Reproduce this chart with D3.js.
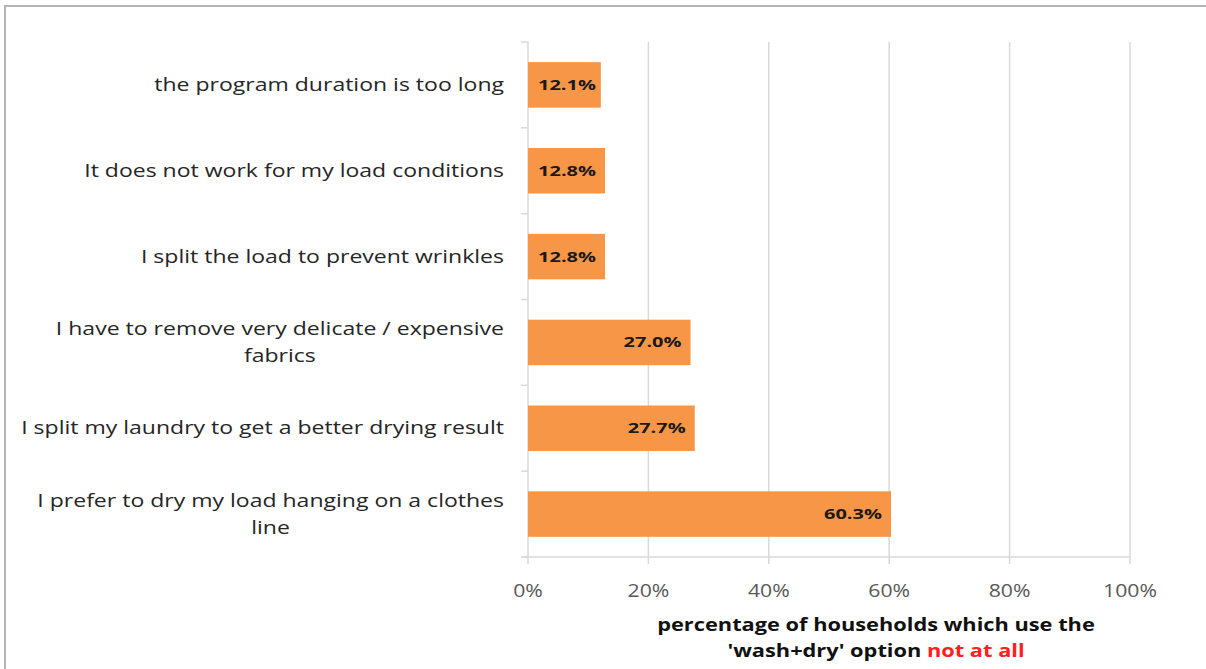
<!DOCTYPE html>
<html>
<head>
<meta charset="utf-8">
<script src="https://cdn.jsdelivr.net/npm/d3@7"></script>
<style>
  body { margin: 0; background: #fff; }
  svg { display: block; }
</style>
</head>
<body>
<svg width="1206" height="669"></svg>
<script>
// reasons, top to bottom
var categories = [
  ["the program duration is too long"],
  ["It does not work for my load conditions"],
  ["I split the load to prevent wrinkles"],
  ["I have to remove very delicate / expensive", "fabrics"],
  ["I split my laundry to get a better drying result"],
  ["I prefer to dry my load hanging on a clothes", "line"]
];
var values = [12.1, 12.8, 12.8, 27.0, 27.7, 60.3];
var xTicks = [0, 20, 40, 60, 80, 100];

var margin = {top: 42, left: 528, right: 76, bottom: 112};
var width = 1206 - margin.left - margin.right;
var height = 669 - margin.top - margin.bottom;
var font = "'Open Sans', Lato, sans-serif";

var svg = d3.select("svg");

// horizontal stretch so the text widths follow the (wide) source rendering
function stretch(sel, k) {
  sel.each(function() {
    var t = d3.select(this);
    var x0 = +t.attr("x"), y0 = +t.attr("y");
    t.attr("x", 0).attr("y", 0)
      .attr("transform", "translate(" + x0 + "," + y0 + ") scale(" + k + ",1)");
  });
}
function widest(sel) {
  var m = 0;
  sel.each(function() { m = Math.max(m, this.getComputedTextLength()); });
  return m;
}

// frame (only top and left edges show)
svg.append("path")
  .attr("d", "M5,669V6H1206")
  .attr("fill", "none")
  .attr("stroke", "#b5b5b5")
  .attr("stroke-width", 2);

var x = d3.scaleLinear().domain([0, 100]).range([0, width]);
var y = d3.scaleBand().domain(d3.range(categories.length)).range([0, height]).paddingInner(0.47).paddingOuter(0.235);

var main = svg.append("g")
  .attr("transform", "translate(" + margin.left + "," + margin.top + ")");

// gridlines
main.selectAll(".grid")
  .data(xTicks.slice(1))
  .enter().append("line")
  .attr("x1", function(d) { return x(d); })
  .attr("x2", function(d) { return x(d); })
  .attr("y1", 0)
  .attr("y2", height + 7)
  .attr("stroke", "#d9d9d9")
  .attr("stroke-width", 1.5);

// y axis line + ticks at band boundaries
main.append("line")
  .attr("x1", 0).attr("x2", 0).attr("y1", 0).attr("y2", height + 7)
  .attr("stroke", "#d9d9d9").attr("stroke-width", 1.5);
main.selectAll(".ytick")
  .data(d3.range(categories.length + 1))
  .enter().append("line")
  .attr("x1", -7).attr("x2", 0)
  .attr("y1", function(i) { return i * height / categories.length; })
  .attr("y2", function(i) { return i * height / categories.length; })
  .attr("stroke", "#d9d9d9").attr("stroke-width", 1.5);

// x axis line
main.append("line")
  .attr("x1", -7).attr("x2", width).attr("y1", height).attr("y2", height)
  .attr("stroke", "#d9d9d9").attr("stroke-width", 1.5);

// x tick labels
var xl = main.selectAll(".xlab")
  .data(xTicks)
  .enter().append("text")
  .attr("x", function(d) { return x(d); })
  .attr("y", height + 40)
  .attr("text-anchor", "middle")
  .attr("font-family", font)
  .attr("font-size", 18)
  .attr("fill", "#595959")
  .text(function(d) { return d + "%"; });
stretch(xl, 54 / widest(xl));

// bars
main.selectAll(".bar")
  .data(values)
  .enter().append("rect")
  .attr("x", 0)
  .attr("y", function(d, i) { return y(i); })
  .attr("width", function(d) { return x(d); })
  .attr("height", y.bandwidth())
  .attr("fill", "#f79646");

// value labels, inside end
var vl = main.selectAll(".val")
  .data(values)
  .enter().append("text")
  .attr("y", function(d, i) { return y(i) + y.bandwidth() / 2 + 5; })
  .attr("text-anchor", "end")
  .attr("font-family", font)
  .attr("font-weight", "bold")
  .attr("font-size", 14)
  .attr("fill", "#1a1a1a")
  .text(function(d) { return d.toFixed(1) + "%"; });
var kv = 58 / widest(vl);
vl.attr("x", function(d) {
  var w = this.getComputedTextLength() * kv;
  return Math.max(x(d) - 9, w + 10);
});
stretch(vl, kv);

// category labels
var labelRight = -24;
var catG = main.selectAll(".cat")
  .data(categories)
  .enter().append("g");
catG.each(function(lines, i) {
  var g = d3.select(this);
  var cy = y(i) + y.bandwidth() / 2;
  lines.forEach(function(s, j) {
    g.append("text")
      .attr("class", "l" + j)
      .attr("font-family", font).attr("font-size", 18).attr("fill", "#262626")
      .attr("y", lines.length === 1 ? cy + 6 : cy + (j === 0 ? -13 : 14) + 6)
      .text(s);
  });
});
var cats = catG.selectAll("text");
var kc = 483 / widest(catG.selectAll(".l0"));
catG.each(function(lines) {
  var g = d3.select(this);
  var t0 = g.select(".l0");
  var w0 = t0.node().getComputedTextLength() * kc;
  t0.attr("text-anchor", "end").attr("x", labelRight);
  g.select(".l1").attr("text-anchor", "middle").attr("x", labelRight - w0 / 2);
});
stretch(cats, kc);

// axis title
var title = svg.append("g")
  .attr("font-family", font).attr("font-size", 17).attr("font-weight", "bold")
  .attr("text-anchor", "middle");
title.append("text").attr("x", 876).attr("y", 631).attr("fill", "#111")
  .text("percentage of households which use the");
var t2 = title.append("text").attr("x", 876).attr("y", 657).attr("fill", "#111");
t2.append("tspan").text("'wash+dry' option ");
t2.append("tspan").attr("fill", "#ff2020").text("not at all");
var tt = title.selectAll("text");
stretch(tt, 438 / widest(tt));
</script>
</body>
</html>
